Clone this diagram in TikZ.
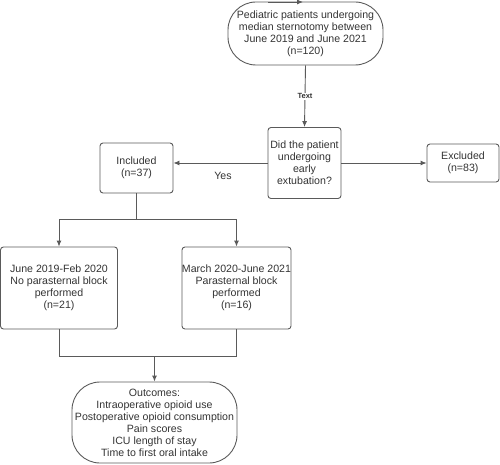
\documentclass[tikz,border=0pt]{standalone}
\usepackage{fontspec}
\setmainfont{Liberation Sans}
\usetikzlibrary{arrows.meta}
\definecolor{linegray}{HTML}{5A5A5A}
\definecolor{txtgray}{HTML}{333333}
\begin{document}
\begin{tikzpicture}[x=1pt,y=-1pt,
  box/.style={draw=linegray, line width=0.9pt, rounded corners=3pt, align=center, text=txtgray,
    font=\fontsize{10.6}{12}\selectfont, inner sep=0pt},
  pill/.style={box, rounded corners=28pt},
  conn/.style={draw=linegray, line width=0.9pt},
  arr/.style={conn, -{Latex[length=6pt,width=5pt]}},
  lbl/.style={text=txtgray, font=\fontsize{10.6}{12}\selectfont}]
\useasboundingbox (0,0) rectangle (500,465);

\node[pill, minimum width=155pt, minimum height=63pt] (top) at (305.5,33.5)
  {Pediatric patients undergoing\\median sternotomy between\\June 2019 and June 2021\\(n=120)};
\node[box, minimum width=73pt, minimum height=71pt] (dec) at (304.5,163)
  {Did the patient\\undergoing\\early\\extubation?};
\node[box, minimum width=73pt, minimum height=50pt] (inc) at (136.5,168)
  {Included\\(n=37)};
\node[box, minimum width=72pt, minimum height=38pt] (exc) at (463,163)
  {Excluded\\(n=83)};
\node[box, minimum width=117pt, minimum height=82pt] (lft) at (59,288)
  {June 2019-Feb 2020\\No parasternal block\\performed\\(n=21)};
\node[box, minimum width=109pt, minimum height=82pt] (rgt) at (236.5,288)
  {March 2020-June 2021\\Parasternal block\\performed\\(n=16)};
\node[pill, minimum width=165pt, minimum height=81pt] (out) at (154.5,422.5)
  {Outcomes:\\Intraoperative opioid use\\Postoperative opioid consumption\\Pain scores\\ICU length of stay\\Time to first oral intake};

\coordinate (ta) at (268,2);
\coordinate (tb) at (303,2);
\draw[arr] (ta) -- (tb);

\draw[arr] (top.south) -- node[fill=white, inner sep=1pt, text=txtgray, font=\bfseries\fontsize{7.5}{8}\selectfont] {Text} (dec.north);
\draw[arr] (dec.west) -- (dec.west -| inc.east);
\draw[arr] (dec.east) -- (exc.west);
\node[lbl] (yes) at (223,176) {Yes};

\coordinate (split) at (136.5,219);
\draw[conn] (inc.south) -- (split);
\draw[arr] (split) -| (lft.north);
\draw[arr] (split) -| (rgt.north);

\coordinate (merge) at (154.5,356);
\draw[conn] (lft.south) |- (merge);
\draw[conn] (rgt.south) |- (merge);
\draw[arr] (merge) -- (out.north);
\end{tikzpicture}
\end{document}
